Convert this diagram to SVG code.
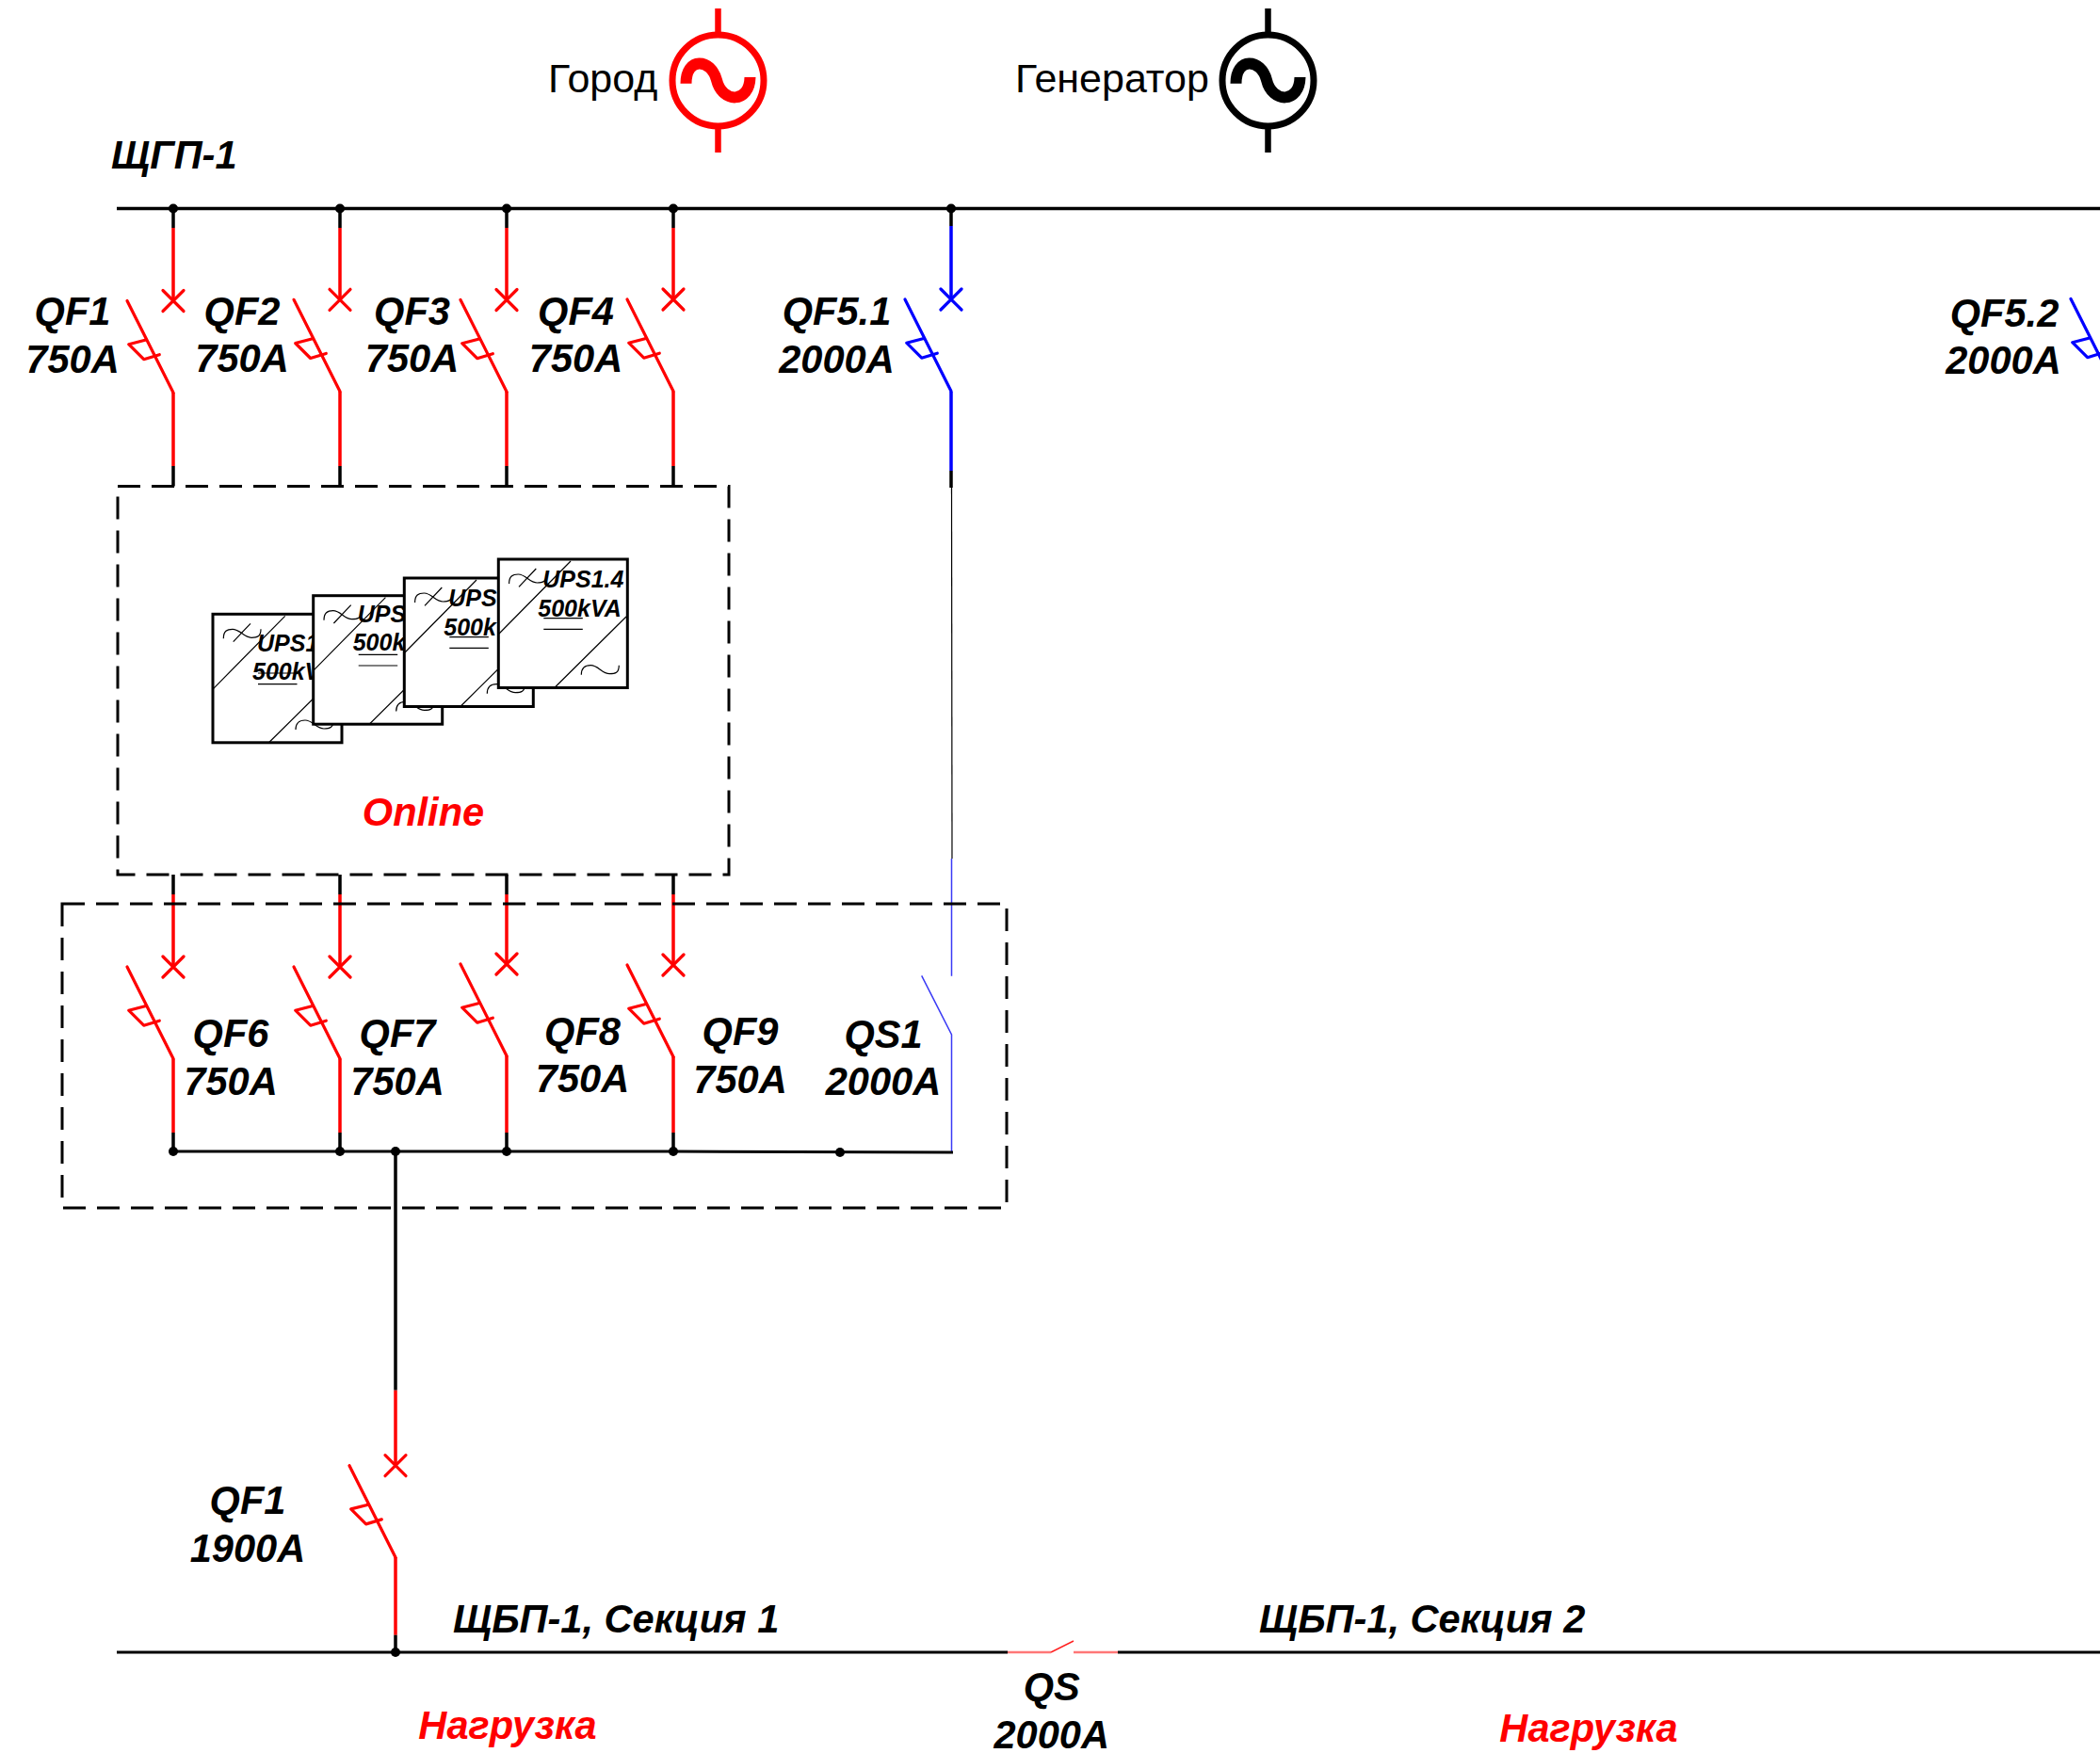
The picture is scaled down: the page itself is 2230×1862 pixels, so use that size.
<svg xmlns="http://www.w3.org/2000/svg" width="2230" height="1862" viewBox="0 0 2230 1862">
<style>
text{font-family:"Liberation Sans",Arial,sans-serif}
.l{font-weight:bold;font-style:italic;font-size:41.6px;fill:#000;text-anchor:middle}
.ls{font-weight:bold;font-style:italic;font-size:41.6px;fill:#000}
.r{fill:#f00}
.g{font-size:43px;fill:#000}
.u{font-weight:bold;font-style:italic;font-size:25px;fill:#000}
.k{stroke:#000;stroke-width:3.5;fill:none}
.re{stroke:#f00;stroke-width:3.5;fill:none}
.bl{stroke:#00f;stroke-width:3.5;fill:none}
.box{fill:none;stroke:#000;stroke-width:3;stroke-dasharray:24 12}
.ups{fill:#fff;stroke:#000;stroke-width:3}
.t{fill:none;stroke:#000;stroke-width:1.2}
.d{fill:#000}
</style>
<defs>
<g id="qf" fill="none" stroke-width="3.2" stroke-linecap="round" stroke-linejoin="round">
<path d="M-11 -11L11 11M-11 11L11 -11"/>
<path d="M-49 0L0 97.5"/>
<path d="M-29 41.5L-47.3 46.2L-31.3 62.2L-14.7 57.2"/>
</g>
<g id="upsb">
<rect class="ups" x="0" y="0" width="137" height="136.5"/>
<path class="t" d="M76.7 2L0.7 79M135.7 61L60 136"/>
<path class="t" d="M11.3 26C11.3 18 15 16 21 16C29 16 33 25 41 25C47 25 51 24 51 16M40 10L21.7 29.3"/>
<path class="t" d="M88 122.7C88 114.700 92 112.700 98 112.700C106 112.700 110 121.700 118 121.700C124 121.700 128 120.700 128 112.700"/>
<path class="t" stroke-width="1.5" d="M48 62.700H89.500M48 74.300H89.500"/>
</g>
</defs>
<rect width="2230" height="1862" fill="#fff"/>

<g id="connectors">
<path class="k" d="M124 221.500H2230"/>
<path class="k" d="M184 221V242M361 221V242M538 221V242M715 221V242M1010 221V240"/>
<path class="re" d="M184 242V319.500M361 242V318.300M538 242V318.500M715 242V318"/>
<path class="re" d="M184 417V495M361 415.800V495M538 416V495M715 415.500V495"/>
<path class="k" d="M184 495V516.500M361 495V516.500M538 495V516.500M715 495V516.500"/>
<path class="bl" d="M1010 240V318M1010 416V500"/>
<path class="k" d="M1010 500V518"/>
<path stroke="#000" stroke-width="1.200" fill="none" d="M1010.500 518L1011 912"/>
<path stroke="#3a3af5" stroke-width="1.500" fill="none" d="M1010.500 912V1036.700M978.700 1036.300L1010.500 1099V1223.500"/>
<path class="k" d="M184 929V950M361 929V950M538 929V950M715 929V950"/>
<path class="re" d="M184 950V1027M361 950V1027M538 950V1024M715 950V1025"/>
<path class="re" d="M184 1124.500V1203M361 1124.500V1203M538 1121.500V1203M715 1122V1203"/>
<path class="k" d="M184 1203V1223M361 1203V1223M538 1203V1223M715 1203V1223"/>
<path stroke="#000" stroke-width="3" fill="none" d="M184 1223H715L1012 1224"/>
<path class="k" d="M420 1223V1476.700"/>
<path class="re" d="M420 1476.700V1556.700M420 1654V1736.700"/>
<path class="k" d="M420 1736.700V1755"/>
<path stroke="#000" stroke-width="3" fill="none" d="M124 1755H1070M1187 1755H2230"/>
<path stroke="#f77" stroke-width="2.500" fill="none" d="M1070 1755H1116M1140 1755H1187"/>
<path stroke="#f22" stroke-width="1.500" fill="none" d="M1116 1755L1140 1743"/>
</g>

<g id="dots">
<circle class="d" cx="184" cy="221.500" r="5"/><circle class="d" cx="361" cy="221.500" r="5"/><circle class="d" cx="538" cy="221.500" r="5"/><circle class="d" cx="715" cy="221.500" r="5"/><circle class="d" cx="1010" cy="221.500" r="5"/>
<circle class="d" cx="184" cy="1223" r="5"/><circle class="d" cx="361" cy="1223" r="5"/><circle class="d" cx="420" cy="1223" r="5"/><circle class="d" cx="538" cy="1223" r="5"/><circle class="d" cx="715" cy="1223" r="5"/><circle class="d" cx="892" cy="1224" r="5"/>
<circle class="d" cx="420" cy="1755" r="5"/>
</g>

<g id="source-city">
<path d="M762.500 9V38M762.500 133V162" stroke="#f00" stroke-width="6.500" fill="none"/>
<circle cx="762.500" cy="85.500" r="48.500" fill="none" stroke="#f00" stroke-width="7"/>
<path d="M728.500 88.700C728.500 60 755 62 761 85C767 110 796 110 796.500 82" fill="none" stroke="#f00" stroke-width="12"/>
<text class="g" x="582" y="97.500">Город</text>
</g>
<g id="source-generator">
<path d="M1346.500 9V38M1346.500 133V162" stroke="#000" stroke-width="6.500" fill="none"/>
<circle cx="1346.500" cy="85.500" r="48.500" fill="none" stroke="#000" stroke-width="7"/>
<path d="M1312.500 88.700C1312.500 60 1339 62 1345 85C1351 110 1380 110 1380.500 82" fill="none" stroke="#000" stroke-width="12"/>
<text class="g" x="1078" y="97.500">Генератор</text>
</g>

<g id="bus-label"><text class="ls" x="118" y="179">ЩГП-1</text></g>

<g id="QF1"><use href="#qf" x="184" y="319.500" stroke="#f00"/><text class="l" x="77" y="345">QF1</text><text class="l" x="77" y="395.500">750A</text></g>
<g id="QF2"><use href="#qf" x="361" y="318.300" stroke="#f00"/><text class="l" x="257" y="344.500">QF2</text><text class="l" x="257" y="395">750A</text></g>
<g id="QF3"><use href="#qf" x="538" y="318.500" stroke="#f00"/><text class="l" x="437.500" y="344.500">QF3</text><text class="l" x="437.500" y="395">750A</text></g>
<g id="QF4"><use href="#qf" x="715" y="318" stroke="#f00"/><text class="l" x="611.500" y="344.500">QF4</text><text class="l" x="611.500" y="395">750A</text></g>
<g id="QF5-1"><use href="#qf" x="1010" y="318" stroke="#00f"/><text class="l" x="888.500" y="345">QF5.1</text><text class="l" x="888.500" y="396">2000A</text></g>
<g id="QF5-2"><use href="#qf" x="2248" y="317.500" stroke="#00f"/><text class="l" x="2128.500" y="346.500">QF5.2</text><text class="l" x="2127.500" y="397">2000A</text></g>

<g id="online-box">
<rect class="box" x="125" y="516.500" width="649" height="412.500"/>
<text class="l r" x="449.500" y="877">Online</text>
</g>
<g id="UPS1">
<g transform="translate(226 652.300)"><use href="#upsb"/><text class="u" x="47" y="39.300">UPS1</text><text class="u" x="42" y="70">500kV</text></g>
</g>
<g id="UPS2">
<g transform="translate(332.700 632.700)"><use href="#upsb"/><text class="u" x="47" y="28.300">UPS</text><text class="u" x="42" y="58">500k</text></g>
</g>
<g id="UPS3">
<g transform="translate(429.300 614)"><use href="#upsb"/><text class="u" x="47" y="30">UPS</text><text class="u" x="42" y="60.500">500k</text></g>
</g>
<g id="UPS4">
<g transform="translate(529.300 594)"><use href="#upsb"/><text class="u" x="47" y="30.300">UPS1.4</text><text class="u" x="42" y="61">500kVA</text></g>
</g>

<g id="output-box"><rect class="box" x="66" y="960" width="1003" height="323"/></g>

<g id="QF6"><use href="#qf" x="184" y="1027" stroke="#f00"/><text class="l" x="245" y="1112">QF6</text><text class="l" x="245" y="1163">750A</text></g>
<g id="QF7"><use href="#qf" x="361" y="1027" stroke="#f00"/><text class="l" x="422" y="1112">QF7</text><text class="l" x="422" y="1163">750A</text></g>
<g id="QF8"><use href="#qf" x="538" y="1024" stroke="#f00"/><text class="l" x="618.500" y="1109.500">QF8</text><text class="l" x="618.500" y="1160">750A</text></g>
<g id="QF9"><use href="#qf" x="715" y="1025" stroke="#f00"/><text class="l" x="786" y="1110">QF9</text><text class="l" x="786" y="1160.700">750A</text></g>
<g id="QS1"><text class="l" x="938" y="1113">QS1</text><text class="l" x="938" y="1163">2000A</text></g>

<g id="QF1-input"><use href="#qf" x="420" y="1556.700" stroke="#f00"/><text class="l" x="263" y="1608">QF1</text><text class="l" x="263" y="1659">1900A</text></g>

<g id="section-1"><text class="ls" x="481" y="1734">ЩБП-1, Секция 1</text><text class="l r" x="539" y="1847">Нагрузка</text></g>
<g id="section-2"><text class="ls" x="1337" y="1734">ЩБП-1, Секция 2</text><text class="l r" x="1687" y="1850">Нагрузка</text></g>
<g id="QS"><text class="l" x="1116.700" y="1806">QS</text><text class="l" x="1116.700" y="1856.700">2000A</text></g>
</svg>
